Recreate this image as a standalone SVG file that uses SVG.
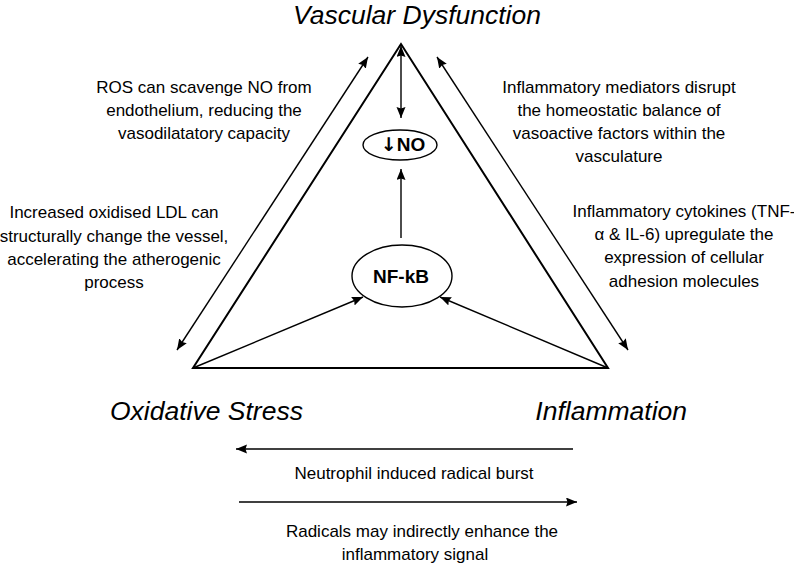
<svg xmlns="http://www.w3.org/2000/svg" width="794" height="564" viewBox="0 0 794 564">
  <defs>
    <style>
      .t { font-family: "Liberation Sans", Arial, sans-serif; font-size: 17px; fill: #000; text-anchor: middle; }
      .h { font-family: "Liberation Sans", Arial, sans-serif; font-size: 26.5px; font-style: italic; fill: #000; }
      .b { font-family: "Liberation Sans", Arial, sans-serif; font-size: 19px; font-weight: bold; fill: #000; text-anchor: middle; }
      .arr { font-family: "DejaVu Sans", sans-serif; font-weight: bold; }
      .ln { stroke: #000; stroke-width: 1.4; fill: none; }
      .tri { stroke: #000; stroke-width: 2; fill: none; stroke-linejoin: miter; }
      .el { stroke: #000; stroke-width: 1.4; fill: #fff; }
    </style>
    <marker id="ah" markerUnits="userSpaceOnUse" markerWidth="12" markerHeight="10" refX="11" refY="4.5" orient="auto-start-reverse">
      <path d="M0,0 L11,4.5 L0,9 L1.5,4.5 z" fill="#000"/>
    </marker>
  </defs>
  <rect width="794" height="564" fill="#fff"/>

  <g id="triangle">
    <polygon class="tri" points="401,44 193,368 608,368"/>
  </g>

  <g id="title-vascular">
    <text class="h" x="417" y="24" text-anchor="middle">Vascular Dysfunction</text>
  </g>
  <g id="title-oxidative">
    <text class="h" x="110" y="420">Oxidative Stress</text>
  </g>
  <g id="title-inflammation">
    <text class="h" x="687" y="420" text-anchor="end">Inflammation</text>
  </g>

  <g id="node-no">
    <ellipse class="el" cx="400" cy="145" rx="37" ry="15"/>
    <text class="b" x="403" y="151"><tspan class="arr">↓</tspan>NO</text>
  </g>
  <g id="node-nfkb">
    <ellipse class="el" cx="402" cy="276" rx="50" ry="31"/>
    <text class="b" x="401" y="283">NF-kB</text>
  </g>

  <g id="connectors">
    <line class="ln" x1="401" y1="46" x2="401" y2="118" marker-start="url(#ah)" marker-end="url(#ah)"/>
    <line class="ln" x1="401" y1="238" x2="401" y2="169" marker-end="url(#ah)"/>
    <line class="ln" x1="193" y1="368" x2="363" y2="297" marker-end="url(#ah)"/>
    <line class="ln" x1="608" y1="368" x2="440" y2="297" marker-end="url(#ah)"/>
    <line class="ln" x1="177" y1="350" x2="368" y2="57" marker-start="url(#ah)" marker-end="url(#ah)"/>
    <line class="ln" x1="437" y1="57" x2="628" y2="350" marker-start="url(#ah)" marker-end="url(#ah)"/>
    <line class="ln" x1="573" y1="449" x2="236" y2="449" marker-end="url(#ah)"/>
    <line class="ln" x1="239" y1="502" x2="577" y2="502" marker-end="url(#ah)"/>
  </g>

  <g id="label-ros">
    <text class="t" x="204" y="93">ROS can scavenge NO from</text>
    <text class="t" x="204" y="116">endothelium, reducing the</text>
    <text class="t" x="204" y="139">vasodilatatory capacity</text>
  </g>
  <g id="label-ldl">
    <text class="t" x="114" y="218">Increased oxidised LDL can</text>
    <text class="t" x="114" y="241.5">structurally change the vessel,</text>
    <text class="t" x="114" y="265">accelerating the atherogenic</text>
    <text class="t" x="114" y="288">process</text>
  </g>
  <g id="label-mediators">
    <text class="t" x="619" y="93">Inflammatory mediators disrupt</text>
    <text class="t" x="619" y="116">the homeostatic balance of</text>
    <text class="t" x="619" y="139">vasoactive factors within the</text>
    <text class="t" x="619" y="162">vasculature</text>
  </g>
  <g id="label-cytokines">
    <text class="t" x="684" y="217">Inflammatory cytokines (TNF-</text>
    <text class="t" x="684" y="240">α &amp; IL-6) upregulate the</text>
    <text class="t" x="684" y="263">expression of cellular</text>
    <text class="t" x="684" y="287">adhesion molecules</text>
  </g>
  <g id="label-neutrophil">
    <text class="t" x="414" y="479">Neutrophil induced radical burst</text>
  </g>
  <g id="label-radicals">
    <text class="t" x="422" y="537">Radicals may indirectly enhance the</text>
    <text class="t" x="415" y="560">inflammatory signal</text>
  </g>
</svg>
